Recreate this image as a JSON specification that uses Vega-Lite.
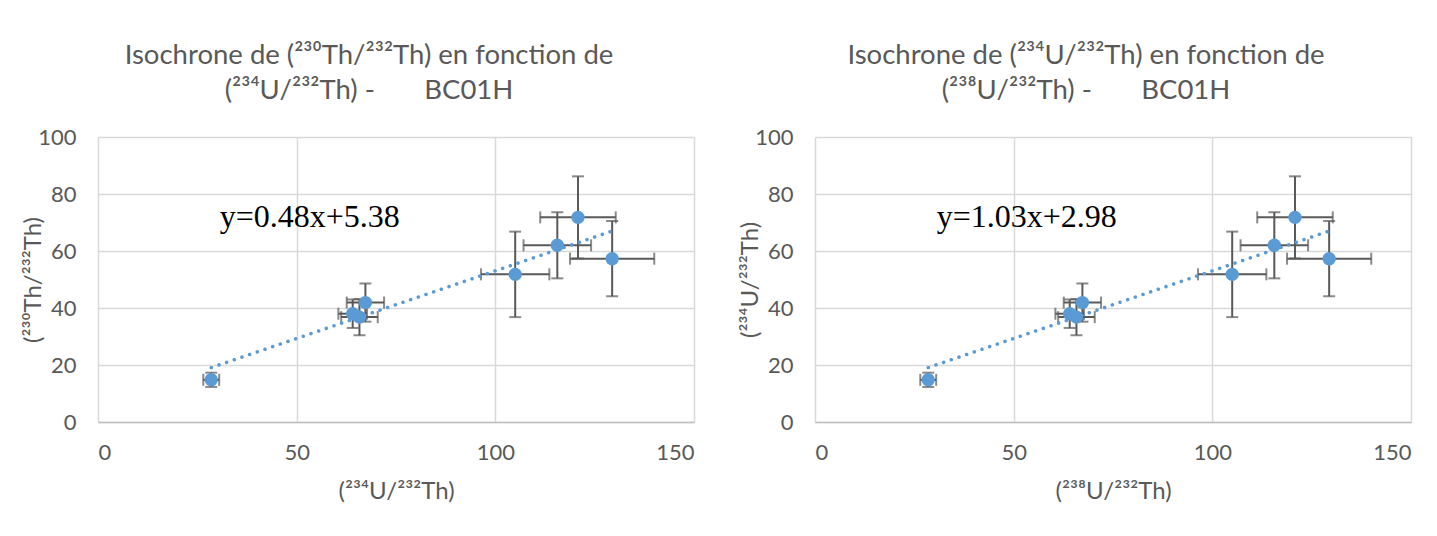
{
  "$schema": "https://vega.github.io/schema/vega-lite/v6.json",
  "background": "white",
  "padding": {"left": 21, "top": 41, "right": 5, "bottom": 5},
  "spacing": 44,
  "datasets": {
    "pts": [
      {"x": 28.5, "y": 14.8, "ex": 2.0, "ey": 2.5},
      {"x": 64.1, "y": 38.0, "ex": 3.6, "ey": 5.0},
      {"x": 65.8, "y": 36.8, "ex": 4.6, "ey": 6.4},
      {"x": 67.3, "y": 41.9, "ex": 4.7, "ey": 6.7},
      {"x": 105.0, "y": 51.8, "ex": 8.6, "ey": 15.0},
      {"x": 115.6, "y": 62.0, "ex": 8.5, "ey": 11.6},
      {"x": 120.8, "y": 71.8, "ex": 9.5, "ey": 14.4},
      {"x": 129.4, "y": 57.3, "ex": 10.6, "ey": 13.2}
    ],
    "trend": [
      {"x": 28.5, "y": 19.1},
      {"x": 129.4, "y": 67.0}
    ]
  },
  "config": {
    "font": "Lato",
    "view": {"stroke": null},
    "axis": {
      "labelFont": "Lato",
      "labelFontSize": 22,
      "labelColor": "#595959",
      "titleFont": "Lato",
      "titleFontSize": 24,
      "titleFontWeight": "normal",
      "titleColor": "#595959",
      "gridColor": "#d9d9d9",
      "gridWidth": 1.5,
      "ticks": false,
      "domain": false
    },
    "title": {
      "font": "Lato",
      "fontSize": 27.5,
      "fontWeight": "normal",
      "color": "#595959",
      "lineHeight": 35,
      "anchor": "middle",
      "offset": 22,
      "dx": -27
    }
  },
  "hconcat": [
    {
      "width": 596,
      "height": 285,
      "title": {"text": ["Isochrone de (²³⁰Th/²³²Th) en fonction de", "(²³⁴U/²³²Th) -\u00a0\u00a0\u00a0\u00a0\u00a0\u00a0\u00a0BC01H"]},
      "layer": [
        {
          "data": {"name": "pts"},
          "mark": {"type": "errorbar", "ticks": {"size": 12}, "color": "#595959", "thickness": 2},
          "encoding": {
            "x": {"field": "x", "type": "quantitative", "title": "(²³⁴U/²³²Th)", "scale": {"domain": [0, 150], "nice": false}, "axis": {"values": [0, 50, 100, 150], "labelPadding": 20, "titlePadding": 16, "domain": true, "domainColor": "#bfbfbf", "domainWidth": 1.5}},
            "y": {"field": "y", "type": "quantitative", "title": "(²³⁰Th/²³²Th)", "scale": {"domain": [0, 100], "nice": false}, "axis": {"values": [0, 20, 40, 60, 80, 100], "labelPadding": 22, "titleX": -53}},
            "yError": {"field": "ey"}
          }
        },
        {
          "data": {"name": "pts"},
          "mark": {"type": "errorbar", "ticks": {"size": 12}, "color": "#595959", "thickness": 2},
          "encoding": {
            "x": {"field": "x", "type": "quantitative", "title": "(²³⁴U/²³²Th)"},
            "xError": {"field": "ex"},
            "y": {"field": "y", "type": "quantitative", "title": "(²³⁰Th/²³²Th)"}
          }
        },
        {
          "data": {"name": "trend"},
          "mark": {"type": "line", "color": "#5b9bd5", "strokeWidth": 3.5, "strokeDash": [0.1, 8], "strokeCap": "round"},
          "encoding": {
            "x": {"field": "x", "type": "quantitative", "title": "(²³⁴U/²³²Th)"},
            "y": {"field": "y", "type": "quantitative", "title": "(²³⁰Th/²³²Th)"}
          }
        },
        {
          "data": {"name": "pts"},
          "mark": {"type": "circle", "color": "#5b9bd5", "size": 180, "opacity": 1},
          "encoding": {
            "x": {"field": "x", "type": "quantitative", "title": "(²³⁴U/²³²Th)"},
            "y": {"field": "y", "type": "quantitative", "title": "(²³⁰Th/²³²Th)"}
          }
        },
        {
          "data": {"values": [{"x": 53.3, "y": 72, "label": "y=0.48x+5.38"}]},
          "mark": {"type": "text", "font": "Liberation Serif", "fontSize": 32, "color": "#000000"},
          "encoding": {
            "x": {"field": "x", "type": "quantitative", "title": "(²³⁴U/²³²Th)"},
            "y": {"field": "y", "type": "quantitative", "title": "(²³⁰Th/²³²Th)"},
            "text": {"field": "label"}
          }
        }
      ]
    },
    {
      "width": 596,
      "height": 285,
      "title": {"text": ["Isochrone de (²³⁴U/²³²Th) en fonction de", "(²³⁸U/²³²Th) -\u00a0\u00a0\u00a0\u00a0\u00a0\u00a0\u00a0BC01H"]},
      "layer": [
        {
          "data": {"name": "pts"},
          "mark": {"type": "errorbar", "ticks": {"size": 12}, "color": "#595959", "thickness": 2},
          "encoding": {
            "x": {"field": "x", "type": "quantitative", "title": "(²³⁸U/²³²Th)", "scale": {"domain": [0, 150], "nice": false}, "axis": {"values": [0, 50, 100, 150], "labelPadding": 20, "titlePadding": 16, "domain": true, "domainColor": "#bfbfbf", "domainWidth": 1.5}},
            "y": {"field": "y", "type": "quantitative", "title": "(²³⁴U/²³²Th)", "scale": {"domain": [0, 100], "nice": false}, "axis": {"values": [0, 20, 40, 60, 80, 100], "labelPadding": 22, "titleX": -53}},
            "yError": {"field": "ey"}
          }
        },
        {
          "data": {"name": "pts"},
          "mark": {"type": "errorbar", "ticks": {"size": 12}, "color": "#595959", "thickness": 2},
          "encoding": {
            "x": {"field": "x", "type": "quantitative", "title": "(²³⁸U/²³²Th)"},
            "xError": {"field": "ex"},
            "y": {"field": "y", "type": "quantitative", "title": "(²³⁴U/²³²Th)"}
          }
        },
        {
          "data": {"name": "trend"},
          "mark": {"type": "line", "color": "#5b9bd5", "strokeWidth": 3.5, "strokeDash": [0.1, 8], "strokeCap": "round"},
          "encoding": {
            "x": {"field": "x", "type": "quantitative", "title": "(²³⁸U/²³²Th)"},
            "y": {"field": "y", "type": "quantitative", "title": "(²³⁴U/²³²Th)"}
          }
        },
        {
          "data": {"name": "pts"},
          "mark": {"type": "circle", "color": "#5b9bd5", "size": 180, "opacity": 1},
          "encoding": {
            "x": {"field": "x", "type": "quantitative", "title": "(²³⁸U/²³²Th)"},
            "y": {"field": "y", "type": "quantitative", "title": "(²³⁴U/²³²Th)"}
          }
        },
        {
          "data": {"values": [{"x": 53.3, "y": 72, "label": "y=1.03x+2.98"}]},
          "mark": {"type": "text", "font": "Liberation Serif", "fontSize": 32, "color": "#000000"},
          "encoding": {
            "x": {"field": "x", "type": "quantitative", "title": "(²³⁸U/²³²Th)"},
            "y": {"field": "y", "type": "quantitative", "title": "(²³⁴U/²³²Th)"},
            "text": {"field": "label"}
          }
        }
      ]
    }
  ]
}
